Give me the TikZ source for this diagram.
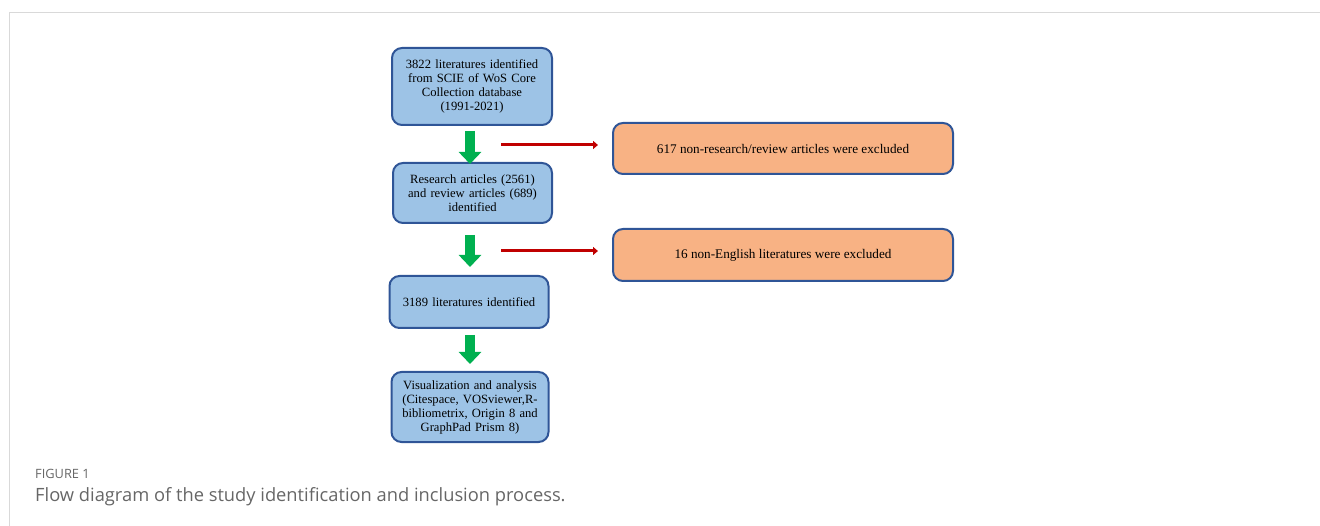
\documentclass[tikz,border=0pt]{standalone}
\usepackage{fontspec}
\setmainfont{Liberation Serif}
\newfontfamily\capfont{Open Sans}
\usetikzlibrary{arrows.meta}
\definecolor{boxblue}{RGB}{157,195,230}
\definecolor{boxborder}{RGB}{47,85,151}
\definecolor{boxorange}{RGB}{248,178,132}
\definecolor{arrred}{RGB}{192,0,0}
\definecolor{arrgreen}{RGB}{0,176,80}
\definecolor{framegray}{RGB}{217,217,217}
\definecolor{capgray}{RGB}{102,102,102}
\tikzset{
  bluebox/.style={draw=boxborder, line width=2pt, fill=boxblue, rounded corners=10pt,
    align=center, inner sep=2pt, font=\fontsize{12.6}{14}\selectfont},
  orangebox/.style={draw=boxborder, line width=2pt, fill=boxorange, rounded corners=10pt,
    align=center, inner sep=2pt, minimum width=340pt, font=\fontsize{13.2}{15}\selectfont},
  greenarrow/.style={draw=arrgreen, line width=10pt,
    -{Triangle[width=22pt,length=12pt]}},
  redarrow/.style={draw=arrred, line width=3pt,
    -{Triangle[width=8pt,length=5pt]}},
  framestyle/.style={draw=framegray, line width=1.5pt},
}
\begin{document}
\begin{tikzpicture}[x=1pt,y=-1pt]
\useasboundingbox (0,0) rectangle (1320,526);
\draw[framestyle] (1320,12.5) -- (9.5,12.5) -- (9.5,526);

\node[bluebox, minimum width=160pt, minimum height=77pt, text width=155pt] (b1) at (472,86.5)
  {3822 literatures identified\\from SCIE of WoS Core\\Collection database\\(1991-2021)};
\node[bluebox, minimum width=159pt, minimum height=60pt, text width=155pt] (b2) at (472.5,193)
  {Research articles (2561)\\and review articles (689)\\identified};
\node[bluebox, minimum width=158pt, minimum height=52pt, text width=155pt] (b3) at (469,302)
  {3189 literatures identified};
\node[bluebox, minimum width=156pt, minimum height=70pt, text width=153pt] (b4) at (470,407)
  {Visualization and analysis\\(Citespace, VOSviewer,R-\\bibliometrix, Origin 8 and\\GraphPad Prism 8)};

\node[orangebox, minimum height=51pt] (o1) at (783,148.5)
  {617 non-research/review articles were excluded};
\node[orangebox, minimum height=52pt] (o2) at (783,255)
  {16 non-English literatures were excluded};

\draw[greenarrow, shorten <=5pt, shorten >=-2pt] (b1.south -| 470,0) -- (b2.north -| 470,0);
\draw[greenarrow, shorten <=11pt, shorten >=8pt] (b2.south -| 470,0) -- (b3.north -| 470,0);
\draw[greenarrow, shorten <=6pt, shorten >=7pt] (b3.south -| 470,0) -- (b4.north -| 470,0);

\coordinate (r1) at (501,145);
\coordinate (r2) at (501,251);
\draw[redarrow, shorten >=14pt] (r1) -- (r1 -| o1.west);
\draw[redarrow, shorten >=14pt] (r2) -- (r2 -| o2.west);

\node[anchor=base west, inner sep=0pt, font=\capfont\fontsize{12.8}{14}\selectfont, text=capgray] (fig) at (35,478) {FIGURE 1};
\node[anchor=base west, inner sep=0pt, font=\capfont\fontsize{18.3}{20}\selectfont, text=capgray] (cap) at (35,501) {Flow diagram of the study identification and inclusion process.};
\end{tikzpicture}
\end{document}
